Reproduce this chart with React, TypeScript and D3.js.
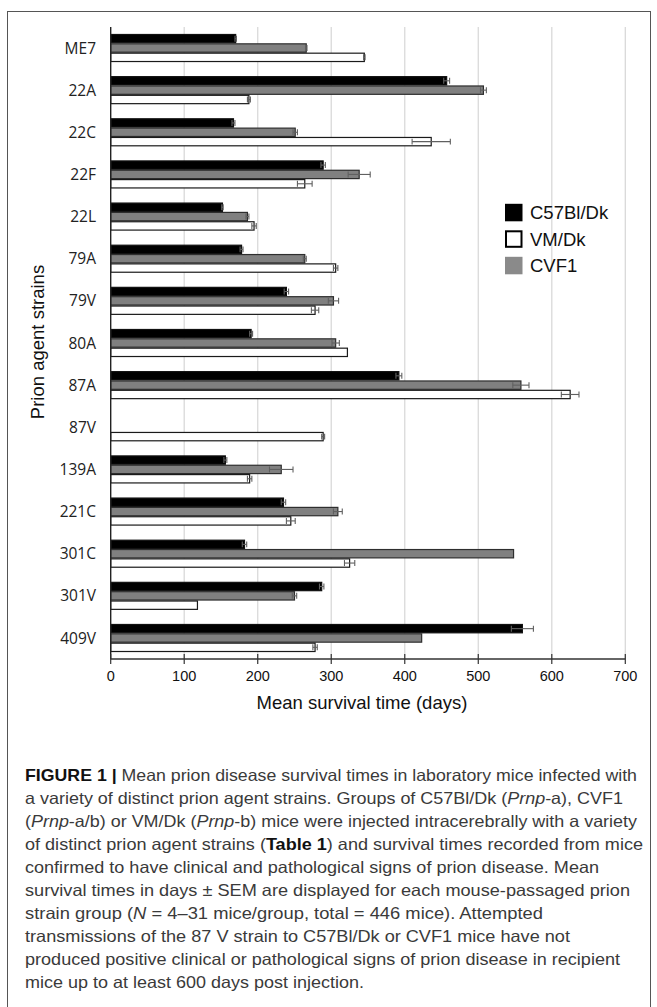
import React, { useEffect, useRef } from 'react';
import * as d3 from 'd3';

// Prion strains (top to bottom)
const strains = ['ME7', '22A', '22C', '22F', '22L', '79A', '79V', '80A', '87A', '87V', '139A', '221C', '301C', '301V', '409V'];

// Mean survival times (days) and SEM per mouse line
const c57Values = [170, 457, 167, 289, 152, 178, 239, 191, 392, null, 156, 235, 182, 287, 560];
const c57Errors = [1, 4, 2, 3, 1, 2, 3, 2, 4, 0, 2, 3, 3, 3, 15];
const cvf1Values = [266, 507, 251, 338, 186, 264, 303, 306, 558, null, 232, 309, 548, 250, 423];
const cvf1Errors = [1, 4, 3, 15, 2, 2, 7, 5, 11, 0, 16, 6, 0, 3, 0];
const vmValues = [345, 188, 436, 264, 195, 306, 278, 322, 625, 289, 189, 245, 325, 118, 278];
const vmErrors = [1, 2, 26, 10, 3, 3, 5, 0, 12, 2, 3, 6, 7, 0, 3];

const xTicks = [0, 100, 200, 300, 400, 500, 600, 700];

// bar order inside a group, and legend order
const barSeries = ['C57Bl/Dk', 'CVF1', 'VM/Dk'];
const legendSeries = ['C57Bl/Dk', 'VM/Dk', 'CVF1'];

// caption lines, split in styled runs: [text, style]
const captionLines = [
  [['FIGURE 1 | ', 'b'], ['Mean prion disease survival times in laboratory mice infected with', '']],
  [['a variety of distinct prion agent strains. Groups of C57Bl/Dk (', ''], ['Prnp', 'i'], ['-a), CVF1', '']],
  [['(', ''], ['Prnp', 'i'], ['-a/b) or VM/Dk (', ''], ['Prnp', 'i'], ['-b) mice were injected intracerebrally with a variety', '']],
  [['of distinct prion agent strains (', ''], ['Table 1', 'b'], [') and survival times recorded from mice', '']],
  [['confirmed to have clinical and pathological signs of prion disease. Mean', '']],
  [['survival times in days \u00b1 SEM are displayed for each mouse-passaged prion', '']],
  [['strain group (', ''], ['N', 'i'], [' = 4\u201331 mice/group, total = 446 mice). Attempted', '']],
  [['transmissions of the 87 V strain to C57Bl/Dk or CVF1 mice have not', '']],
  [['produced positive clinical or pathological signs of prion disease in recipient', '']],
  [['mice up to at least 600 days post injection.', '']],
];
const captionWidths = [612, 598, 612, 618, 574, 605, 518, 545, 595, 339];

const W = 657;
const H = 1007;

const App = () => {
  const ref = useRef(null);

  useEffect(() => {
    const svg = d3.select(ref.current);
    svg.selectAll('*').remove();

    const fills = { 'C57Bl/Dk': '#000000', 'CVF1': '#808080', 'VM/Dk': '#ffffff' };
    const strokes = { 'C57Bl/Dk': '#111111', 'CVF1': '#2e2e2e', 'VM/Dk': '#1a1a1a' };

    const values = { 'C57Bl/Dk': c57Values, 'CVF1': cvf1Values, 'VM/Dk': vmValues };
    const errors = { 'C57Bl/Dk': c57Errors, 'CVF1': cvf1Errors, 'VM/Dk': vmErrors };

    // frame
    svg.append('rect')
      .attr('x', 7.5).attr('y', 11.5)
      .attr('width', 643).attr('height', 1010)
      .attr('fill', 'none')
      .attr('stroke', '#555')
      .attr('stroke-width', 1);

    const x = d3.scaleLinear().domain([0, 700]).range([110.7, 625.3]);
    const y = d3.scaleBand().domain(strains).range([27, 659]).paddingInner(0.335).paddingOuter(0.166);
    const yi = d3.scaleBand().domain(barSeries).range([0, y.bandwidth()]);

    // grid
    svg.append('g')
      .selectAll('line')
      .data(xTicks.slice(1))
      .join('line')
      .attr('x1', d => x(d)).attr('x2', d => x(d))
      .attr('y1', 27).attr('y2', 659)
      .attr('stroke', '#d9d9d9')
      .attr('stroke-width', 1.3);

    // bars
    const rows = [];
    strains.forEach((s, i) => {
      barSeries.forEach(k => {
        const v = values[k][i];
        if (v != null) rows.push({ strain: s, key: k, value: v, err: errors[k][i] });
      });
    });

    const bars = svg.append('g');
    bars.selectAll('rect')
      .data(rows)
      .join('rect')
      .attr('x', x(0))
      .attr('y', d => y(d.strain) + yi(d.key) + 0.5)
      .attr('width', d => x(d.value) - x(0))
      .attr('height', yi.bandwidth() - 1)
      .attr('fill', d => fills[d.key])
      .attr('stroke', d => strokes[d.key])
      .attr('stroke-width', 1.2);

    // error bars
    const eb = svg.append('g')
      .attr('stroke', '#606060')
      .attr('stroke-width', 1.1)
      .attr('fill', 'none');
    rows.filter(d => d.err > 0).forEach(d => {
      const cy = y(d.strain) + yi(d.key) + yi.bandwidth() / 2;
      const x0 = x(d.value - d.err);
      const x1 = x(d.value + d.err);
      const h = yi.bandwidth() * 0.32;
      eb.append('line').attr('x1', x0).attr('x2', x1).attr('y1', cy).attr('y2', cy);
      eb.append('line').attr('x1', x0).attr('x2', x0).attr('y1', cy - h).attr('y2', cy + h);
      eb.append('line').attr('x1', x1).attr('x2', x1).attr('y1', cy - h).attr('y2', cy + h);
    });

    // axes
    svg.append('line')
      .attr('x1', x(0)).attr('x2', x(0))
      .attr('y1', 27).attr('y2', 659)
      .attr('stroke', '#222').attr('stroke-width', 1.4);
    svg.append('line')
      .attr('x1', x(0)).attr('x2', x(700))
      .attr('y1', 659).attr('y2', 659)
      .attr('stroke', '#333').attr('stroke-width', 1.4);

    const xt = svg.append('g');
    xt.selectAll('line')
      .data(xTicks)
      .join('line')
      .attr('x1', d => x(d)).attr('x2', d => x(d))
      .attr('y1', 654).attr('y2', 664)
      .attr('stroke', '#333').attr('stroke-width', 1.2);
    xt.selectAll('text')
      .data(xTicks)
      .join('text')
      .attr('x', d => x(d))
      .attr('y', 681)
      .attr('text-anchor', 'middle')
      .attr('font-family', 'Liberation Sans, Arial, sans-serif')
      .attr('font-size', 14.5)
      .attr('fill', '#111')
      .text(d => d);

    svg.append('text')
      .attr('x', 362).attr('y', 709)
      .attr('text-anchor', 'middle')
      .attr('font-family', 'Liberation Sans, Arial, sans-serif')
      .attr('font-size', 18.5)
      .attr('fill', '#111')
      .text('Mean survival time (days)');

    // strain labels
    svg.append('g')
      .selectAll('text')
      .data(strains)
      .join('text')
      .attr('x', 96)
      .attr('y', d => y(d) + y.bandwidth() / 2)
      .attr('dy', '0.36em')
      .attr('text-anchor', 'end')
      .attr('font-family', 'Open Sans, sans-serif')
      .attr('font-size', 15.5)
      .attr('fill', '#222')
      .text(d => d);

    svg.append('text')
      .attr('transform', 'translate(44,342) rotate(-90)')
      .attr('text-anchor', 'middle')
      .attr('font-family', 'Liberation Sans, Arial, sans-serif')
      .attr('font-size', 18.5)
      .attr('fill', '#111')
      .text('Prion agent strains');

    // legend
    const lg = svg.append('g')
      .selectAll('g')
      .data(legendSeries)
      .join('g')
      .attr('transform', (d, i) => `translate(505,${212.5 + i * 26.5})`);
    lg.append('rect')
      .attr('x', d => (d === 'VM/Dk' ? 1 : 0))
      .attr('y', d => (d === 'VM/Dk' ? -7.7 : -8.7))
      .attr('width', d => (d === 'VM/Dk' ? 15.5 : 17.5))
      .attr('height', d => (d === 'VM/Dk' ? 15.5 : 17.5))
      .attr('fill', d => (d === 'CVF1' ? '#8a8a8a' : fills[d]))
      .attr('stroke', d => (d === 'VM/Dk' ? '#000' : 'none'))
      .attr('stroke-width', 2);
    lg.append('text')
      .attr('x', 25)
      .attr('dy', '0.36em')
      .attr('font-family', 'Liberation Sans, Arial, sans-serif')
      .attr('font-size', 18.5)
      .attr('fill', '#111')
      .text(d => d);

    // caption
    const cap = svg.append('g')
      .attr('font-family', 'Liberation Sans Narrow, Liberation Sans, Arial, sans-serif')
      .attr('font-size', 16.5)
      .attr('fill', '#3a3a3a');
    captionLines.forEach((line, i) => {
      const t = cap.append('text')
        .attr('x', 25)
        .attr('y', 781 + i * 23)
        .attr('textLength', captionWidths[i])
        .attr('lengthAdjust', 'spacingAndGlyphs');
      line.forEach(([str, st]) => {
        t.append('tspan')
          .attr('font-weight', st === 'b' ? 700 : 400)
          .attr('font-style', st === 'i' ? 'italic' : 'normal')
          .attr('fill', st === 'b' ? '#111' : null)
          .text(str);
      });
    });
  }, []);

  return (
    <div style={{ position: 'absolute', left: 0, top: 0, width: W, height: H, background: '#fff' }}>
      <svg ref={ref} width={W} height={H} style={{ display: 'block' }} />
    </div>
  );
};

export default App;
